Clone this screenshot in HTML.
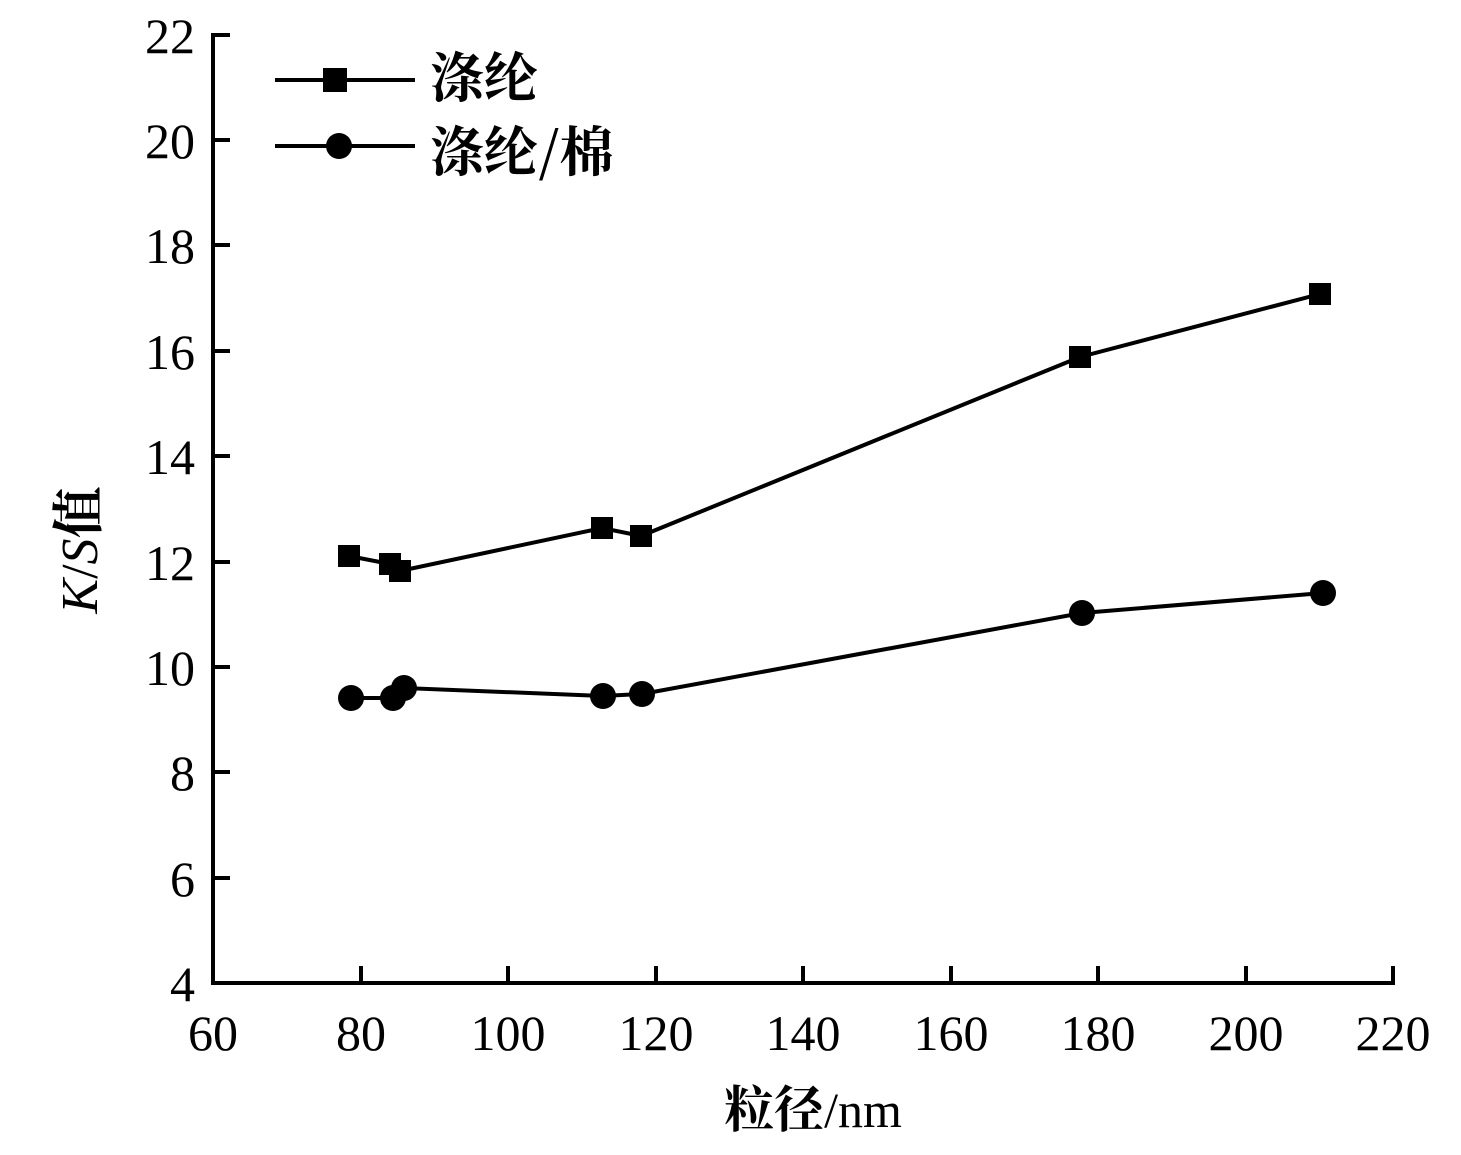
<!DOCTYPE html>
<html><head><meta charset="utf-8"><style>body{margin:0;background:#fff}</style></head><body>
<svg width="1461" height="1150" xmlns="http://www.w3.org/2000/svg" font-family="'Liberation Serif','Noto Serif CJK SC',serif">
<g stroke="#000" stroke-width="4" fill="none">
<polyline points="230,35 213,35 213,983 1395,983"/>
<path d="M213,140h17M213,245h17M213,351h17M213,456h17M213,562h17M213,667h17M213,772h17M213,878h17"/>
<path d="M361,983v-17M508,983v-17M656,983v-17M803,983v-17M951,983v-17M1098,983v-17M1246,983v-17M1393,983v-17"/>
<polyline points="349,556 390,564 400,571 602,528 641,536 1080,357 1320,294"/>
<polyline points="351,698 393,698 404,688 603,696 642,694 1082,613 1323,593"/>
<path d="M275,80h140M275,146h140"/>
</g>
<g fill="#000">
<rect x="338" y="545" width="22" height="22"/><rect x="379" y="553" width="22" height="22"/><rect x="389" y="560" width="22" height="22"/><rect x="591" y="517" width="22" height="22"/><rect x="630" y="525" width="22" height="22"/><rect x="1069" y="346" width="22" height="22"/><rect x="1309" y="283" width="22" height="22"/>
<circle cx="351" cy="698" r="13"/><circle cx="393" cy="698" r="13"/><circle cx="404" cy="688" r="13"/><circle cx="603" cy="696" r="13"/><circle cx="642" cy="694" r="13"/><circle cx="1082" cy="613" r="13"/><circle cx="1323" cy="593" r="13"/>
<rect x="323" y="68" width="24" height="24"/><circle cx="339" cy="146" r="13"/>
</g>
<g font-size="50" text-anchor="end">
<text x="195" y="53">22</text><text x="195" y="158">20</text><text x="195" y="263">18</text><text x="195" y="369">16</text><text x="195" y="474">14</text><text x="195" y="580">12</text><text x="195" y="685">10</text><text x="195" y="790">8</text><text x="195" y="896">6</text><text x="195" y="1001">4</text>
</g>
<g font-size="50" text-anchor="middle">
<text x="213" y="1050">60</text><text x="361" y="1050">80</text><text x="508" y="1050">100</text><text x="656" y="1050">120</text><text x="803" y="1050">140</text><text x="951" y="1050">160</text><text x="1098" y="1050">180</text><text x="1246" y="1050">200</text><text x="1393" y="1050">220</text>
<text x="813" y="1127"><tspan font-weight="bold" font-family="'Noto Serif CJK SC',serif">粒径</tspan>/nm</text>
</g>
<text transform="translate(97,550) rotate(-90)" text-anchor="middle" font-size="52"><tspan font-style="italic">K</tspan>/<tspan font-style="italic">S</tspan><tspan font-weight="bold" font-family="'Noto Serif CJK SC',serif">值</tspan></text>
<g font-size="54" font-weight="bold" font-family="'Noto Serif CJK SC',serif">
<text x="430" y="97">涤纶</text><text x="430" y="171">涤纶/棉</text>
</g>
</svg>
</body></html>
